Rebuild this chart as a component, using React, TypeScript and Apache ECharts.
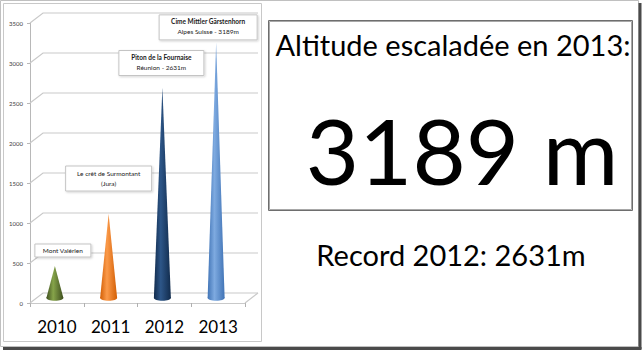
import React, { useEffect, useRef } from "react";
import * as echarts from "echarts";

const years = ["2010", "2011", "2012", "2013"];
const altitudes = [400, 1050, 2631, 3189];
const summitNames = ["Mont Valérien", "Le crêt de Surmontant", "Piton de la Fournaise", "Cime Mittler Gärstenhorn"];
const summitDetails = ["", "(Jura)", "Réunion - 2631m", "Alpes Suisse - 3189m"];
const yTicks = [0, 500, 1000, 1500, 2000, 2500, 3000, 3500];
const headline = "Altitude escaladée en 2013:";
const bigValue = "3189 m";
const recordText = "Record 2012: 2631m";

// styles (not data)
const coneColors = [
  { dark: "#3e4e1e", light: "#86a44a" },
  { dark: "#d35f05", light: "#fb9a4a" },
  { dark: "#112b4c", light: "#2d5688" },
  { dark: "#4174b6", light: "#7eaae0" },
];
const labelBoxes = [
  { dx: 8, dy: 9, w: 56, h: 13, bold: false },
  { dx: 0, dy: 23, w: 86, h: 25, bold: false },
  { dx: -1, dy: 12, w: 85, h: 25, bold: true },
  { dx: -8, dy: 3, w: 98, h: 25, bold: true },
];
const DEPTH_X = 13;
const DEPTH_Y = 10;
const CONE_LIFT = 5;
const FONT = "Lato, 'Open Sans', sans-serif";

export default function App() {
  const ref = useRef<HTMLDivElement>(null);
  useEffect(() => {
    if (!ref.current) return;
    const chart = echarts.init(ref.current, undefined, { renderer: "svg" });
    const gridColor = "#c9c9c9";

    const option: any = {
      animation: false,
      backgroundColor: "#ffffff",
      grid: { left: 30, top: 23, right: 399, bottom: 50, containLabel: false },
      xAxis: {
        type: "category",
        data: years,
        boundaryGap: true,
        axisLine: { show: true, lineStyle: { color: gridColor, width: 1 } },
        axisTick: { show: true, length: 4, lineStyle: { color: "#b0b0b0" } },
        axisLabel: { color: "#000", fontSize: 17, fontFamily: FONT, margin: 15 },
        splitLine: { show: false },
      },
      yAxis: {
        type: "value",
        min: 0,
        max: 3500,
        interval: 500,
        axisLine: { show: true, lineStyle: { color: "#b8b8b8" } },
        axisTick: { show: true, length: 3, lineStyle: { color: "#b8b8b8" } },
        axisLabel: {
          color: "#404040",
          fontSize: 6,
          fontFamily: FONT,
          margin: 7,
          formatter: (v: number) => String(v),
        },
        splitLine: { show: false },
      },
      series: [
        {
          type: "custom",
          z: 1,
          silent: true,
          data: yTicks.map((v) => [0, v]),
          renderItem: (params: any, api: any) => {
            const v = api.value(1);
            const cs = params.coordSys;
            const y = api.coord([0, v])[1];
            const x0 = cs.x;
            const x1 = cs.x + cs.width;
            const lineStyle = { stroke: gridColor, lineWidth: 1.2, fill: "none" };
            const children: any[] = [
              {
                type: "polyline",
                shape: { points: [[x0, y], [x0 + DEPTH_X, y - DEPTH_Y], [x1 + DEPTH_X, y - DEPTH_Y]] },
                style: lineStyle,
              },
            ];
            if (v === 0) {
              children.push({
                type: "line",
                shape: { x1: x1, y1: y, x2: x1 + DEPTH_X, y2: y - DEPTH_Y },
                style: lineStyle,
              });
            }
            return { type: "group", children };
          },
        },
        {
          type: "custom",
          z: 3,
          data: altitudes.map((v, i) => [i, v]),
          renderItem: (params: any, api: any) => {
            const i = api.value(0);
            const v = api.value(1);
            const top = api.coord([i, v]);
            const base = api.coord([i, 0]);
            const cx = base[0] - 2;
            const by = base[1] - CONE_LIFT;
            const ty = top[1] - CONE_LIFT;
            const hw = 8.5;
            const c = coneColors[i];
            const grad = new echarts.graphic.LinearGradient(0, 0, 1, 0, [
              { offset: 0, color: c.dark },
              { offset: 0.4, color: c.light },
              { offset: 1, color: c.dark },
            ]);
            const lb = labelBoxes[i];
            const boxCx = cx + lb.dx;
            const boxBottom = ty - lb.dy;
            const boxTop = boxBottom - lb.h;
            const children: any[] = [
              {
                type: "ellipse",
                shape: { cx, cy: by, rx: hw, ry: 2.8 },
                style: { fill: grad },
              },
              {
                type: "polygon",
                shape: { points: [[cx - hw, by], [cx, ty], [cx + hw, by]] },
                style: { fill: grad },
              },
              {
                type: "rect",
                shape: { x: boxCx - lb.w / 2, y: boxTop, width: lb.w, height: lb.h },
                style: {
                  fill: "#ffffff",
                  stroke: "#c4c4c4",
                  lineWidth: 1,
                  shadowColor: "rgba(0,0,0,0.18)",
                  shadowBlur: 2,
                  shadowOffsetX: 1,
                  shadowOffsetY: 1,
                },
              },
            ];
            const detail = summitDetails[i];
            const nameY = detail ? boxTop + 7 : boxTop + lb.h / 2;
            children.push({
              type: "text",
              style: {
                text: summitNames[i],
                x: boxCx,
                y: nameY,
                align: "center",
                verticalAlign: "middle",
                fill: "#1a1a1a",
                font: `${lb.bold ? "bold " : ""}6.5px ${FONT}`,
              },
            });
            if (detail) {
              children.push({
                type: "text",
                style: {
                  text: detail,
                  x: boxCx,
                  y: boxTop + 17,
                  align: "center",
                  verticalAlign: "middle",
                  fill: "#1a1a1a",
                  font: `6.5px ${FONT}`,
                },
              });
            }
            return { type: "group", children };
          },
        },
      ],
      graphic: [
        {
          type: "rect",
          z: -10,
          shape: { x: 0.5, y: 0.5, width: 638, height: 346 },
          style: { fill: "#ffffff", stroke: "#c0c0c0", lineWidth: 1 },
        },
        {
          type: "line",
          shape: { x1: 640, y1: 3, x2: 640, y2: 349 },
          style: { stroke: "#4a4a4a", lineWidth: 3 },
        },
        {
          type: "line",
          shape: { x1: 3, y1: 348.5, x2: 641.5, y2: 348.5 },
          style: { stroke: "#4a4a4a", lineWidth: 3 },
        },
        {
          type: "rect",
          z: -5,
          shape: { x: 3.5, y: 3.5, width: 258, height: 338 },
          style: { fill: "#ffffff", stroke: "#c8c8c8", lineWidth: 1 },
        },
        {
          type: "rect",
          shape: { x: 268.5, y: 20.5, width: 364, height: 190 },
          style: { fill: "none", stroke: "#6e6e6e", lineWidth: 1 },
        },
        {
          type: "rect",
          shape: { x: 269.5, y: 21.5, width: 362, height: 188 },
          style: { fill: "none", stroke: "#a8a8a8", lineWidth: 1 },
        },
        {
          type: "text",
          style: {
            text: headline,
            x: 453,
            y: 44,
            align: "center",
            verticalAlign: "middle",
            fill: "#000",
            font: `29px ${FONT}`,
          },
        },
        {
          type: "text",
          style: {
            text: bigValue,
            x: 462,
            y: 149,
            align: "center",
            verticalAlign: "middle",
            fill: "#000",
            font: `92px ${FONT}`,
          },
        },
        {
          type: "text",
          style: {
            text: recordText,
            x: 451,
            y: 254,
            align: "center",
            verticalAlign: "middle",
            fill: "#000",
            font: `29px ${FONT}`,
          },
        },
      ],
    };
    chart.setOption(option);
    return () => chart.dispose();
  }, []);
  return (
    <div
      ref={ref}
      style={{ position: "fixed", left: 0, top: 0, width: 644, height: 353 }}
    />
  );
}
